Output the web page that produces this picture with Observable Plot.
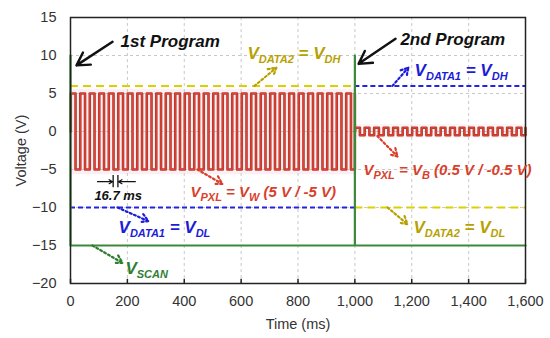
<!DOCTYPE html>
<html>
<head>
<meta charset="utf-8">
<script src="https://cdn.jsdelivr.net/npm/d3@7"></script>
<script src="https://cdn.jsdelivr.net/npm/@observablehq/plot@0.6"></script>
<style>
  html, body { margin: 0; padding: 0; background: #fff; }
  #chart svg { font-family: "Liberation Sans", Arial, sans-serif; }
</style>
</head>
<body>
<div id="chart"></div>
<script>
// ---- data ----
const timeTicks = [0, 200, 400, 600, 800, 1000, 1200, 1400, 1600];
const voltTicks = [-20, -15, -10, -5, 0, 5, 10, 15];
const frameMs = 16.7;                 // one frame (half period of the pixel waveform)
const programNames = ["1st Program", "2nd Program"];
const programStart = [0, 1000];
const programEnd = [1000, 1600];
const pxlHigh = [5, 0.5];
const pxlLow = [-5, -0.5];
const vData1 = [-10, 6];
const vData2 = [6, -10];
const scanHigh = 10;
const scanLow = -15;

// ---- derived series ----
const pxl = [];
for (let p = 0; p < programStart.length; p++) {
  pxl.push({t: programStart[p], v: 0, p});
  let k = 0;
  for (let t = programStart[p] + 1; t < programEnd[p]; t += frameMs, k++) {
    pxl.push({t, v: k % 2 === 0 ? pxlHigh[p] : pxlLow[p], p});
  }
  pxl.push({t: programEnd[p], v: k % 2 === 0 ? pxlHigh[p] : pxlLow[p], p});
}
const scan = [
  {t: programStart[0], v: scanHigh}, {t: programStart[0], v: scanLow},
  {t: programStart[1], v: scanLow}, {t: programStart[1], v: scanHigh},
  {t: programStart[1], v: scanLow}, {t: programEnd[1], v: scanLow}
];
const data1 = programStart.map((s, i) => ({x1: s, x2: programEnd[i], y: vData1[i]}));
const data2 = programStart.map((s, i) => ({x1: s, x2: programEnd[i], y: vData2[i]}));

// ---- annotation layout ----
const cRed = "#d8402c", cBlue = "#1c1cd8", cOlive = "#b7a100", cGreen = "#2f7f33";
const labels = [
  {x: 176, y: 11.8, s: programNames[0], c: "#111", f: 17},
  {x: 1160, y: 12.1, s: programNames[1], c: "#111", f: 17},
  {x: 622, y: 10.3, s: "V_{DATA2} = V_{DH}", c: cOlive, f: 17},
  {x: 1210, y: 8.0, s: "V_{DATA1} = V_{DH}", c: cBlue, f: 17},
  {x: 1030, y: -5.1, s: "V_{PXL} = V_{B} (0.5 V / -0.5 V)", c: cRed, f: 15},
  {x: 422, y: -8.0, s: "V_{PXL} = V_{W} (5 V / -5 V)", c: cRed, f: 15},
  {x: 169, y: -12.7, s: "V_{DATA1} = V_{DL}", c: cBlue, f: 17},
  {x: 193, y: -18.0, s: "V_{SCAN}", c: cGreen, f: 17},
  {x: 1206, y: -12.6, s: "V_{DATA2} = V_{DL}", c: cOlive, f: 17}
];
const solidArrows = [
  {x1: 148, y1: 11.8, x2: 21, y2: 8.7},
  {x1: 1143, y1: 12.2, x2: 1013, y2: 8.9}
];
const dotArrows = [
  {x1: 647, y1: 6.0, x2: 724, y2: 8.4, c: cOlive},
  {x1: 1132, y1: 6.0, x2: 1188, y2: 8.4, c: cBlue},
  {x1: 1079, y1: -0.6, x2: 1150, y2: -3.3, c: cRed},
  {x1: 446, y1: -5.0, x2: 534, y2: -6.9, c: cRed},
  {x1: 165, y1: -10, x2: 274, y2: -11.8, c: cBlue},
  {x1: 77, y1: -15, x2: 183, y2: -17.3, c: cGreen},
  {x1: 1115, y1: -10, x2: 1185, y2: -12.2, c: cOlive}
];
const frameMarkY = -6.6;
const frameMarkX = [150, 150 + frameMs];

const plot = Plot.plot({
  width: 550, height: 338,
  marginLeft: 70, marginRight: 25, marginTop: 17, marginBottom: 55,
  x: {domain: [0, 1600]},
  y: {domain: [-20, 15]},
  marks: [
    // soft highlight behind waveforms
    Plot.rect([{x1: 0, x2: 1000, y1: -5.7, y2: 5.5}], {x1: "x1", x2: "x2", y1: "y1", y2: "y2", fill: "#fdeef3"}),
    Plot.rect([{x1: 1000, x2: 1600, y1: -0.9, y2: 0.9}], {x1: "x1", x2: "x2", y1: "y1", y2: "y2", fill: "#fdf2f5"}),
    Plot.gridX(timeTicks.slice(1, -1), {stroke: "#c8c8c8", strokeOpacity: 1, strokeDasharray: "3,3"}),
    Plot.gridY(voltTicks.slice(1, -1), {stroke: "#c8c8c8", strokeOpacity: 1, strokeDasharray: "3,3"}),
    Plot.axisX({ticks: timeTicks, tickFormat: d3.format(","), tickSize: 0, tickPadding: 12, fontSize: 14.5, color: "#333",
      label: "Time (ms)", labelAnchor: "center", labelArrow: "none", labelOffset: 45}),
    Plot.axisY({ticks: voltTicks, tickSize: 0, tickPadding: 14, fontSize: 14.5, color: "#333",
      label: "Voltage (V)", labelAnchor: "center", labelArrow: "none", labelOffset: 55}),
    Plot.ruleX(timeTicks, {x: d => d, y1: -20, y2: -19.45, stroke: "#222", strokeWidth: 1.5}),
    // pixel voltage square wave
    Plot.line(pxl, {x: "t", y: "v", z: "p", curve: "step-after", stroke: "#a8402c", strokeWidth: 2.6}),
    Plot.line(pxl, {x: "t", y: "v", z: "p", curve: "step-after", stroke: "#f23a36", strokeWidth: 1}),
    // data lines
    Plot.ruleY(data2, {x1: "x1", x2: "x2", y: "y", stroke: "#dcd000", strokeWidth: 2, strokeDasharray: "8,5"}),
    Plot.ruleY(data1, {x1: "x1", x2: "x2", y: "y", stroke: "#2323e0", strokeWidth: 2, strokeDasharray: "5,3"}),
    // scan line
    Plot.line(scan, {x: "t", y: "v", stroke: "#3a8a3a", strokeWidth: 2.2}),
    Plot.frame({stroke: "#222", strokeWidth: 1.5}),
    // arrows
    Plot.arrow(solidArrows, {x1: "x1", y1: "y1", x2: "x2", y2: "y2", stroke: "#111", strokeWidth: 2.4, headLength: 9}),
    Plot.arrow(dotArrows, {x1: "x1", y1: "y1", x2: "x2", y2: "y2", stroke: "c", strokeWidth: 2.2, strokeDasharray: "2,2.5", headLength: 6}),
    Plot.ruleX(frameMarkX, {x: d => d, y1: frameMarkY + 0.8, y2: frameMarkY - 0.8, stroke: "#111", strokeWidth: 1.3}),
    Plot.arrow([{x1: 95, x2: frameMarkX[0] - 2}, {x1: 228, x2: frameMarkX[1] + 2}], {x1: "x1", x2: "x2", y1: frameMarkY, y2: frameMarkY, stroke: "#111", strokeWidth: 1.2, headLength: 5}),
    Plot.text([{x: 84, y: -8.4, s: frameMs + " ms"}], {x: "x", y: "y", text: "s", textAnchor: "start", fontSize: 13, fontWeight: "bold", fontStyle: "italic", fill: "#111"}),
    Plot.text(labels.filter(d => d.f === 17), {x: "x", y: "y", text: "s", fill: "c", textAnchor: "start", fontSize: 17, fontWeight: "bold", fontStyle: "italic"}),
    Plot.text(labels.filter(d => d.f === 15), {x: "x", y: "y", text: "s", fill: "c", textAnchor: "start", fontSize: 15, fontWeight: "bold", fontStyle: "italic"})
  ]
});

// render subscripts
d3.select(plot).selectAll("text").each(function () {
  const s = this.textContent;
  if (!s.includes("_{")) return;
  const el = d3.select(this);
  el.selectAll("*").remove();
  el.text(null);
  const parts = s.split(/_\{([^}]*)\}/);
  let sub = false;
  parts.forEach((part, i) => {
    const isSub = i % 2 === 1;
    if (!part) return;
    const ts = el.append("tspan").text(part);
    if (isSub) { ts.attr("font-size", 11).attr("dy", sub ? 0 : 4); sub = true; }
    else { if (sub) ts.attr("dy", -4); sub = false; }
  });
});

document.getElementById("chart").appendChild(plot);
</script>
</body>
</html>
